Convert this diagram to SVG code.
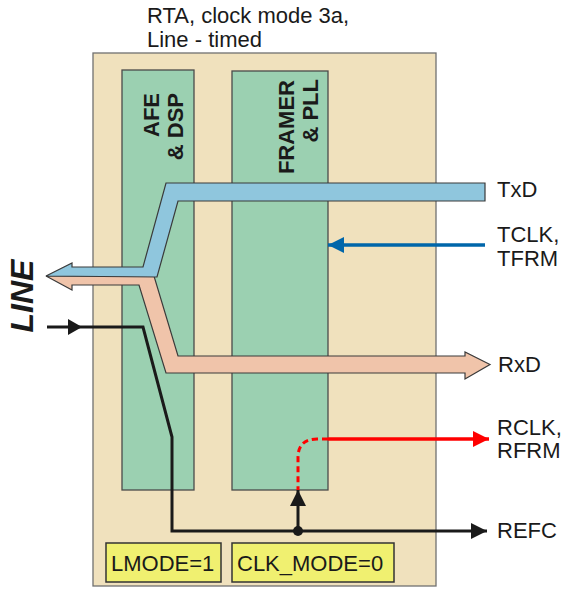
<svg xmlns="http://www.w3.org/2000/svg" width="565" height="590" viewBox="0 0 565 590">
<style>
text{font-family:"Liberation Sans",Arial,sans-serif;font-size:22px;fill:#1a1a1a}
.b{font-weight:bold}
.blk{fill:#9bd0b1;stroke:#4a4a4a;stroke-width:1.3}
.reg{fill:#f0f070;stroke:#333;stroke-width:1.5}
.k{stroke:#1a1a1a;stroke-width:3;fill:none}
</style>
<defs>
<marker id="ak" viewBox="0 0 16 16" refX="16" refY="8" markerWidth="16" markerHeight="16" markerUnits="userSpaceOnUse" orient="auto"><path d="M0,0L16,8L0,16z" fill="#1a1a1a"/></marker>
<marker id="ab" viewBox="0 0 16 16" refX="16" refY="8" markerWidth="16" markerHeight="16" markerUnits="userSpaceOnUse" orient="auto"><path d="M0,0L16,8L0,16z" fill="#0066aa"/></marker>
<marker id="ar" viewBox="0 0 16 16" refX="16" refY="8" markerWidth="16" markerHeight="16" markerUnits="userSpaceOnUse" orient="auto"><path d="M0,0L16,8L0,16z" fill="#ff0000"/></marker>
</defs>
<g id="title">
<text x="147" y="23">RTA, clock mode 3a,</text>
<text x="147" y="47">Line - timed</text>
</g>
<g id="rta">
<rect x="93" y="53" width="343" height="533" fill="#f0e1bd" stroke="#707070" stroke-width="1.3"/>
</g>
<g id="afe">
<rect class="blk" x="122" y="70" width="72" height="420"/>
<text class="b" transform="translate(159,93) rotate(-90)" text-anchor="end">AFE</text>
<text class="b" transform="translate(183,93) rotate(-90)" text-anchor="end">&amp; DSP</text>
</g>
<g id="framer">
<rect class="blk" x="232" y="71" width="96" height="419"/>
<text class="b" transform="translate(294,80) rotate(-90)" text-anchor="end">FRAMER</text>
<text class="b" transform="translate(318,79) rotate(-90)" text-anchor="end">&amp; PLL</text>
</g>
<g id="lmode">
<rect class="reg" x="106" y="543" width="115" height="39"/>
<text x="111" y="571">LMODE=1</text>
</g>
<g id="clkmode">
<rect class="reg" x="232" y="543" width="162" height="39"/>
<text x="237" y="571">CLK_MODE=0</text>
</g>
<g id="line-label">
<text class="b" font-style="italic" font-size="32" transform="translate(33,296) rotate(-90)" text-anchor="middle" style="font-size:32px">LINE</text>
</g>
<g id="connectors">
<path d="M46,276L72,290L72,285L139,285L166,373L465,373L465,379L490,364.5L465,352L465,356L178,356L154,276Z" fill="#f0c4aa" stroke="#3a3a3a" stroke-width="1.2" stroke-linejoin="miter"/>
<path d="M46,276L72,263L72,267L143,267L166,183L485,183L485,201L178,201L157,277L46,276Z" fill="#8fc6dd" stroke="#3a3a3a" stroke-width="1.2"/>
<line x1="485" y1="245" x2="328" y2="245" stroke="#0066aa" stroke-width="3.5" marker-end="url(#ab)"/>
<line x1="328" y1="439" x2="489" y2="439" stroke="#ff0000" stroke-width="3.5" marker-end="url(#ar)"/>
<path d="M328,439H317Q298,439 298,458V490" stroke="#ff0000" stroke-width="3" fill="none" stroke-dasharray="6,4"/>
<path class="k" d="M47,327H143L172,437V531H487" marker-end="url(#ak)"/>
<path d="M68,319L82,327L68,335z" fill="#1a1a1a"/>
<line class="k" x1="298" y1="531" x2="298" y2="490" stroke-width="3.5" marker-end="url(#ak)"/>
<circle cx="298" cy="531" r="5" fill="#1a1a1a"/>
</g>
<g id="labels">
<text x="497" y="197">TxD</text>
<text x="497" y="242">TCLK,</text>
<text x="497" y="266">TFRM</text>
<text x="498" y="372">RxD</text>
<text x="497" y="435">RCLK,</text>
<text x="497" y="458">RFRM</text>
<text x="497" y="538">REFC</text>
</g>
</svg>
